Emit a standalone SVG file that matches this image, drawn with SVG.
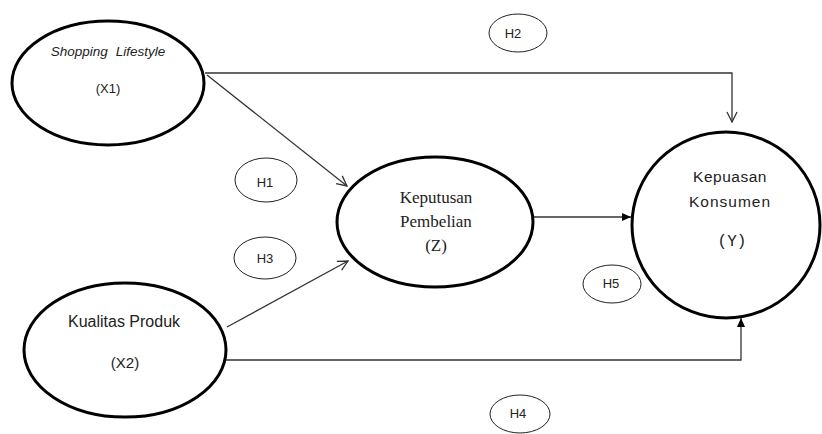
<svg xmlns="http://www.w3.org/2000/svg" width="822" height="434" viewBox="0 0 822 434">
<style>
.big{fill:#fff;stroke:#000;stroke-width:3}
.hyp{fill:#fff;stroke:#222;stroke-width:1}
.sans{font-family:"Liberation Sans",Arial,sans-serif;fill:#222;text-anchor:middle}
.serif{font-family:"Liberation Serif","Times New Roman",serif;fill:#222;text-anchor:middle}
.mono{font-family:"Liberation Mono","Courier New",monospace;fill:#222;text-anchor:middle}
.conn{fill:none;stroke:#333;stroke-width:1.3}
</style>
<defs>
<marker id="open" markerWidth="12" markerHeight="12" refX="11" refY="6" orient="auto" markerUnits="userSpaceOnUse">
<path d="M1,1 L11,6 L1,11" fill="none" stroke="#333" stroke-width="1.3"/>
</marker>
<marker id="solid" markerWidth="10" markerHeight="10" refX="9" refY="5" orient="auto" markerUnits="userSpaceOnUse">
<path d="M0,1 L9,5 L0,9 z" fill="#000"/>
</marker>
</defs>
<g id="connectors">
<polyline class="conn" points="205,73 732,73 732,122" marker-end="url(#open)"/>
<line class="conn" x1="207" y1="75" x2="347" y2="186" marker-end="url(#open)"/>
<line class="conn" x1="227" y1="327" x2="348" y2="261" marker-end="url(#open)"/>
<line class="conn" x1="533" y1="217" x2="631" y2="217" marker-end="url(#solid)"/>
<polyline class="conn" points="226,360 741,360 741,318" marker-end="url(#solid)"/>
</g>
<g id="X1">
<ellipse class="big" cx="108" cy="83" rx="96" ry="62"/>
<text class="sans" x="108" y="56" font-size="13.5" font-style="italic" word-spacing="4">Shopping Lifestyle</text>
<text class="sans" x="108" y="93" font-size="13">(X1)</text>
</g>
<g id="X2">
<ellipse class="big" cx="125" cy="350" rx="101" ry="67"/>
<text class="sans" x="124" y="327" font-size="16">Kualitas Produk</text>
<text class="sans" x="125" y="368" font-size="15">(X2)</text>
</g>
<g id="Z">
<ellipse class="big" cx="435" cy="222" rx="98" ry="65"/>
<text class="serif" x="436" y="203" font-size="17">Keputusan</text>
<text class="serif" x="436" y="227" font-size="17">Pembelian</text>
<text class="serif" x="436" y="251" font-size="17">(Z)</text>
</g>
<g id="Y">
<ellipse class="big" cx="726" cy="225" rx="94" ry="93"/>
<text class="sans" x="730" y="182" font-size="15.5" letter-spacing="0.5">Kepuasan</text>
<text class="sans" x="730" y="207" font-size="15.5" letter-spacing="1">Konsumen</text>
<text class="mono" x="732" y="246" font-size="16">(Y)</text>
</g>
<g id="H1">
<ellipse class="hyp" cx="266" cy="180" rx="31" ry="22"/>
<text class="sans" x="265" y="187" font-size="13">H1</text>
</g>
<g id="H2">
<ellipse class="hyp" cx="518" cy="33" rx="29" ry="19"/>
<text class="sans" x="513" y="38" font-size="13">H2</text>
</g>
<g id="H3">
<ellipse class="hyp" cx="265" cy="258" rx="31" ry="21"/>
<text class="sans" x="265" y="263" font-size="13">H3</text>
</g>
<g id="H4">
<ellipse class="hyp" cx="520" cy="414" rx="30" ry="19"/>
<text class="sans" x="518" y="418" font-size="13">H4</text>
</g>
<g id="H5">
<ellipse class="hyp" cx="612" cy="284" rx="29" ry="19"/>
<text class="sans" x="611" y="288" font-size="13">H5</text>
</g>
</svg>
